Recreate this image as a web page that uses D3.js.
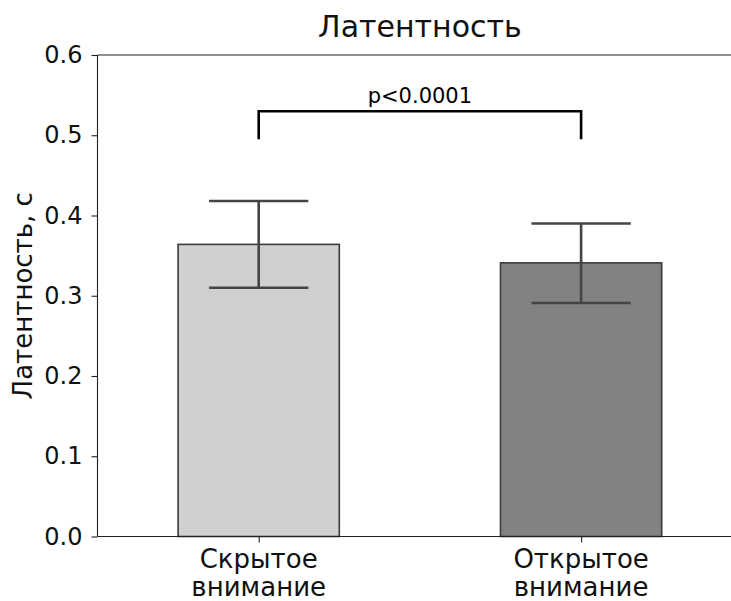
<!DOCTYPE html>
<html><head><meta charset="utf-8">
<script src="https://cdn.jsdelivr.net/npm/d3@7"></script>
<style>body{margin:0;background:#fff}svg{display:block}text{font-family:"DejaVu Sans",sans-serif}</style>
</head><body>
<svg id="c" width="731" height="601"></svg>
<script>
const categories = [["Скрытое","внимание"],["Открытое","внимание"]];
const values = [0.364, 0.341];
const errLow = [0.310, 0.291];
const errHigh = [0.418, 0.390];
const barColors = ["#d0d0d0", "#828282"];
const yTicks = [0.0, 0.1, 0.2, 0.3, 0.4, 0.5, 0.6];
const title = "Латентность";
const yLabel = "Латентность, с";
const sigText = "p<0.0001";
const sigY = [0.495, 0.530];

(function(){
const svg = d3.select("#c");
const mL = 97.5, mR = 742.3, mT = 55, mB = 536.5;
const x = d3.scaleLinear().domain([-0.5, 1.5]).range([mL, mR]);
const y = d3.scaleLinear().domain([0, 0.6]).range([mB, mT]);

// bars
svg.selectAll("rect.bar").data(values).enter().append("rect")
  .attr("x", (d,i) => x(i - 0.25)).attr("width", (d,i) => x(i+0.25) - x(i-0.25))
  .attr("y", d => y(d)).attr("height", d => y(0) - y(d))
  .attr("fill", (d,i) => barColors[i]).attr("stroke", "#3a3a3a").attr("stroke-width", 1.6);

// error bars
const capHalf = 0.154;
values.forEach((v,i) => {
  const g = svg.append("g").attr("stroke", "#444").attr("stroke-width", 2.6);
  g.append("line").attr("x1", x(i)).attr("x2", x(i)).attr("y1", y(errLow[i])).attr("y2", y(errHigh[i]));
  g.append("line").attr("x1", x(i-capHalf)).attr("x2", x(i+capHalf)).attr("y1", y(errLow[i])).attr("y2", y(errLow[i]));
  g.append("line").attr("x1", x(i-capHalf)).attr("x2", x(i+capHalf)).attr("y1", y(errHigh[i])).attr("y2", y(errHigh[i]));
});

// y axis
const yAxis = d3.axisLeft(y).tickValues(yTicks).tickFormat(d3.format(".1f")).tickSize(6).tickPadding(9);
const ga = svg.append("g").attr("transform", `translate(${mL},0)`).call(yAxis);
ga.select(".domain").remove();
ga.selectAll(".tick line").attr("stroke", "#222").attr("stroke-width", 1.1);
ga.selectAll(".tick text").attr("font-size", 24).attr("fill", "#111").attr("font-family", "DejaVu Sans");

// x axis ticks
const gx = svg.append("g").attr("transform", `translate(0,${mB})`)
  .call(d3.axisBottom(x).tickValues([0,1]).tickSize(6).tickFormat(""));
gx.select(".domain").remove();
gx.selectAll(".tick line").attr("stroke", "#222").attr("stroke-width", 1.1);
categories.forEach((lines,i) => {
  const t = svg.append("text").attr("text-anchor", "middle").attr("font-size", 26).attr("fill", "#111");
  lines.forEach((l,j) => t.append("tspan").attr("x", x(i)).attr("y", 568 + j*28).text(l));
});

// spines
svg.append("line").attr("x1", mL).attr("x2", mL).attr("y1", mT).attr("y2", mB).attr("stroke", "#222").attr("stroke-width", 1.1);
svg.append("line").attr("x1", mL).attr("x2", mR).attr("y1", mB).attr("y2", mB).attr("stroke", "#222").attr("stroke-width", 1.1);
svg.append("line").attr("x1", mL).attr("x2", mR).attr("y1", mT).attr("y2", mT).attr("stroke", "#222").attr("stroke-width", 1.1);

// significance bracket
svg.append("path")
  .attr("d", `M${x(0)},${y(sigY[0])}V${y(sigY[1])}H${x(1)}V${y(sigY[0])}`)
  .attr("fill", "none").attr("stroke", "#000").attr("stroke-width", 2.6);
svg.append("text").attr("x", (x(0)+x(1))/2).attr("y", 103).attr("text-anchor", "middle")
  .attr("font-size", 21).attr("fill", "#000").text(sigText);

// title & y label
svg.append("text").attr("x", (mL+mR)/2).attr("y", 37).attr("text-anchor", "middle")
  .attr("font-size", 30).attr("fill", "#111").text(title);
svg.append("text").attr("transform", `translate(32,${(mT+mB)/2}) rotate(-90)`).attr("text-anchor", "middle")
  .attr("font-size", 26).attr("fill", "#111").text(yLabel);
})();
</script>
</body></html>
